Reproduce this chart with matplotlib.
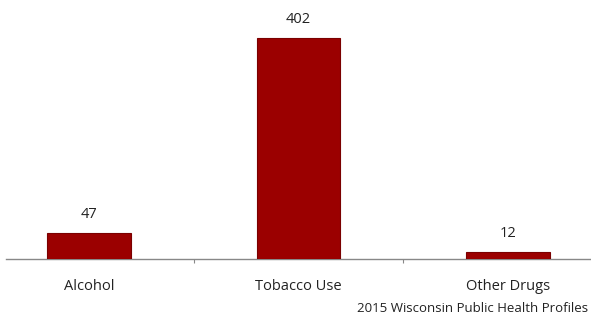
import matplotlib
matplotlib.use("Agg")
import matplotlib.pyplot as plt

categories = ["Alcohol", "Tobacco Use", "Other Drugs"]
values = [47, 402, 12]
source = "2015 Wisconsin Public Health Profiles"

plt.rcParams['font.family'] = ['Open Sans', 'DejaVu Sans']

W, H = 591, 320
fig = plt.figure(figsize=(W/100, H/100), dpi=100)
ax = fig.add_axes([6/W, (H-259)/H, (591-6)/W, (259-12)/H])

x = list(range(len(categories)))
bars = ax.bar(x, values, width=0.40, color="#9B0000", edgecolor="#7a0000", linewidth=0.8, zorder=3)
for xi, v in zip(x, values):
    ax.annotate(str(v), (xi, v), xytext=(0, 8), textcoords="offset points",
                ha="center", va="bottom", fontsize=10.5, color="#222222")

ax.set_xlim(-0.396, 2.396)
ax.set_ylim(0, 450)
ax.set_yticks([])
for s in ["top", "right", "left"]:
    ax.spines[s].set_visible(False)
ax.spines["bottom"].set_color("#888888")
ax.spines["bottom"].set_linewidth(1.0)

ax.set_xticks([0.5, 1.5])
ax.set_xticklabels([])
ax.tick_params(axis="x", length=3, color="#888888", direction="out")
for xi, c in zip(x, categories):
    ax.text(xi, 1 - 286/H, c, transform=matplotlib.transforms.blended_transform_factory(ax.transData, fig.transFigure),
            ha="center", va="center", fontsize=10.5, color="#222222")

fig.text(588/W, 1 - 308/H, source, ha="right", va="center", fontsize=9.5, color="#222222")

fig.savefig("out.png", dpi=100)
